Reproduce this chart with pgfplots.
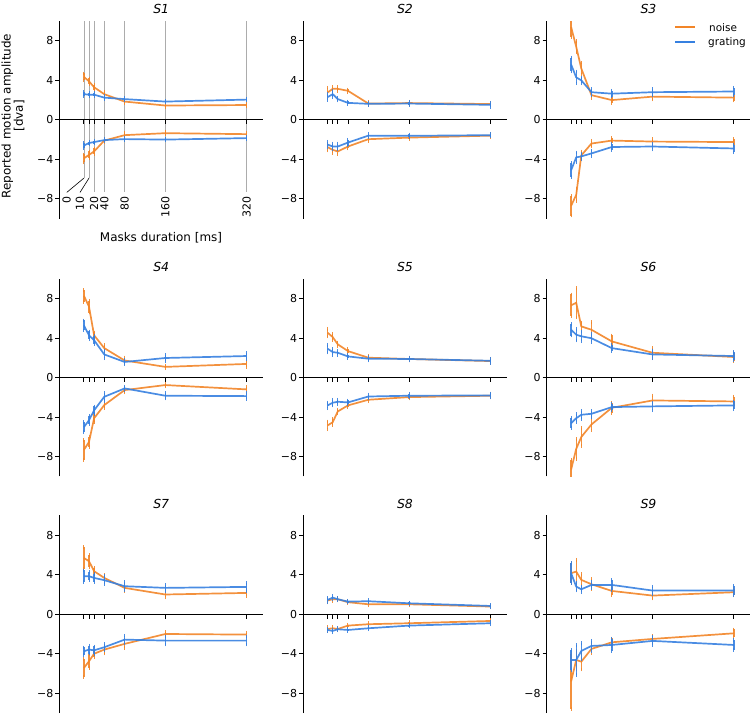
\documentclass[border=0pt]{standalone}
\usepackage{fontspec}
\setmainfont{DejaVu Sans}
\usepackage{pgfplots}
\usepackage{pgfplotstable}
\pgfplotsset{compat=1.18}
\definecolor{cN}{RGB}{242,133,40}
\definecolor{cG}{RGB}{54,128,224}

% columns: x, noise(+) with error, noise(-) with error, grating(+) with error, grating(-) with error
\pgfplotstableread{
x Np eNp Nm eNm Gp eGp Gm eGm
0 4.35 .35 -3.9 .4 2.6 .2 -2.6 .25
10 3.9 .3 -3.55 .35 2.55 .15 -2.35 .15
20 3.3 .25 -3.2 .3 2.55 .15 -2.25 .15
40 2.6 .2 -2.1 .2 2.25 .15 -2.05 .1
80 1.85 .2 -1.55 .2 2.1 .15 -1.95 .1
160 1.45 .15 -1.35 .15 1.85 .1 -2.0 .1
320 1.5 .15 -1.45 .15 2.05 .1 -1.85 .1
}\tA
\pgfplotstableread{
x Np eNp Nm eNm Gp eGp Gm eGm
0 2.77 .5 -2.77 .35 2.3 .3 -2.5 .3
10 3.14 .2 -3.04 .3 2.6 .3 -2.7 .3
20 3.14 .2 -3.2 .3 2.1 .15 -2.7 .3
40 2.94 .15 -2.7 .2 1.72 .15 -2.3 .3
80 1.65 .15 -1.96 .2 1.62 .15 -1.6 .15
160 1.7 .15 -1.8 .15 1.65 .15 -1.62 .15
320 1.6 .15 -1.6 .15 1.52 .2 -1.55 .15
}\tB
\pgfplotstableread{
x Np eNp Nm eNm Gp eGp Gm eGm
0 9.4 1.0 -8.7 1.0 5.6 .7 -5.1 .7
10 7.4 .6 -7.6 .6 4.3 .6 -3.8 .5
20 5.2 .6 -3.6 .4 4.0 .3 -3.7 .3
40 2.5 .3 -2.4 .3 2.8 .3 -3.4 .3
80 2.0 .3 -2.1 .25 2.65 .3 -2.75 .3
160 2.35 .3 -2.2 .25 2.8 .3 -2.7 .3
320 2.25 .3 -2.25 .3 2.87 .4 -2.9 .4
}\tC
\pgfplotstableread{
x Np eNp Nm eNm Gp eGp Gm eGm
0 8.3 .6 -7.3 1.0 5.3 .5 -5.0 .5
10 7.2 .6 -6.5 .5 4.3 .4 -4.3 .4
20 4.3 .3 -4.1 .4 3.8 .4 -3.3 .4
40 3.0 .3 -2.77 .3 2.36 .4 -1.93 .4
80 1.75 .3 -1.25 .25 1.6 .2 -1.08 .2
160 1.1 .15 -0.74 .15 2.0 .3 -1.82 .3
320 1.4 .3 -1.18 .25 2.2 .3 -1.86 .3
}\tD
\pgfplotstableread{
x Np eNp Nm eNm Gp eGp Gm eGm
0 4.56 .4 -4.83 .4 2.94 .4 -2.8 .3
10 4.12 .3 -4.5 .3 2.6 .3 -2.53 .3
20 3.38 .2 -3.41 .2 2.53 .2 -2.43 .2
40 2.7 .2 -2.8 .2 2.16 .15 -2.5 .2
80 2.03 .2 -2.23 .15 1.93 .2 -1.9 .2
160 1.9 .15 -1.96 .15 1.9 .15 -1.82 .2
320 1.69 .2 -1.82 .2 1.72 .2 -1.79 .2
}\tE
\pgfplotstableread{
x Np eNp Nm eNm Gp eGp Gm eGm
0 7.33 1.1 -9.3 1.0 4.86 .6 -4.6 .5
10 7.6 1.5 -7.2 1.0 4.36 .6 -4.1 .4
20 5.2 .4 -6.0 .9 4.2 .5 -3.75 .4
40 4.86 .8 -4.73 .6 4.0 .4 -3.65 .3
80 3.68 .6 -3.04 .5 3.0 .3 -2.97 .3
160 2.53 .5 -2.3 .5 2.36 .4 -2.9 .4
320 2.1 .4 -2.4 .5 2.2 .4 -2.8 .4
}\tF
\pgfplotstableread{
x Np eNp Nm eNm Gp eGp Gm eGm
0 5.7 1.1 -5.44 .9 3.85 .6 -3.75 .4
10 5.37 .6 -4.76 .7 3.85 .4 -3.58 .4
20 4.36 .3 -4.0 .3 3.68 .4 -3.65 .4
40 3.68 .3 -3.58 .4 3.45 .4 -3.34 .3
80 2.67 .3 -3.0 .4 2.84 .4 -2.57 .4
160 2.0 .3 -2.0 .2 2.67 .3 -2.67 .4
320 2.16 .3 -2.06 .2 2.77 .4 -2.67 .4
}\tG
\pgfplotstableread{
x Np eNp Nm eNm Gp eGp Gm eGm
0 1.39 .2 -1.49 .2 1.45 .2 -1.59 .15
10 1.52 .15 -1.42 .15 1.69 .15 -1.69 .15
20 1.52 .1 -1.49 .1 1.52 .1 -1.52 .1
40 1.22 .1 -1.15 .1 1.28 .1 -1.59 .1
80 1.01 .1 -1.01 .1 1.32 .1 -1.42 .1
160 1.01 .1 -0.91 .1 1.11 .1 -1.15 .1
320 0.78 .1 -0.68 .1 0.84 .1 -0.91 .1
}\tH
\pgfplotstableread{
x Np eNp Nm eNm Gp eGp Gm eGm
0 4.16 1.0 -6.8 2.8 4.16 1.0 -4.63 1.0
10 4.32 1.2 -4.63 .9 2.8 .4 -4.63 1.5
20 3.48 .6 -4.8 .8 2.53 .3 -3.72 .8
40 3.04 .5 -3.51 .4 2.97 .3 -3.21 .5
80 2.36 .4 -2.84 .4 2.97 .5 -3.11 .6
160 1.89 .3 -2.5 .3 2.4 .4 -2.7 .4
320 2.23 .3 -1.93 .4 2.4 .5 -3.11 .5
}\tI

\pgfplotsset{
  panel/.style={
    scale only axis, width=203.5bp, height=197.5bp,
    anchor=south west,
    xmin=-48, xmax=352, ymin=-10, ymax=10,
    axis x line=none, axis y line=left,
    axis line style={-, line width=0.9bp, black},
    ytick={-8,-4,0,4,8}, yticklabels={−8,−4,0,4,8},
    tick align=outside, major tick length=4bp,
    tick style={line width=0.9bp, black},
    yticklabel style={font=\fontsize{11}{12}\selectfont, inner sep=0pt, anchor=east, xshift=-2bp},
    title style={font=\fontsize{12.5}{14}\selectfont\itshape, at={(0.5,1)}, anchor=base, yshift=1.5bp},
    clip mode=individual,
  },
}
\newcommand{\series}[4]{%
  \addplot[#4, line width=1.7bp, opacity=0.9,
    error bars/.cd, y dir=both, y explicit,
    error bar style={line width=1.4bp, #4},
    error mark options={mark size=1.8bp, line width=1bp, #4}]
    table[x=x, y=#2, y error=#3] {#1};}
\newcommand{\zeroaxis}{%
  \draw[black, line width=1bp] (axis cs:-48,0) -- (axis cs:352,0);
  \pgfplotsinvokeforeach{0,10,20,40,80,160,320}{\draw[black, line width=0.9bp] (axis cs:##1,0) -- ([yshift=-4.5bp]axis cs:##1,0);}}
\newcommand{\allseries}[1]{%
  \series{#1}{Np}{eNp}{cN}\series{#1}{Nm}{eNm}{cN}%
  \series{#1}{Gp}{eGp}{cG}\series{#1}{Gm}{eGm}{cG}}

\begin{document}
\begin{tikzpicture}
\path[use as bounding box] (0bp,0bp) rectangle (750bp,714bp);

% ---- row 1 ----
\begin{axis}[panel, at={(59.5bp,495.4bp)}, title={S1}]
  \pgfplotsinvokeforeach{20,40,80,160,320}{\draw[gray!65, line width=0.8bp] (axis cs:#1,10) -- (axis cs:#1,-7.3);}
  \draw[gray!65, line width=0.8bp] (axis cs:0,10) -- (axis cs:0,-5.9);
  \draw[gray!65, line width=0.8bp] (axis cs:10,10) -- (axis cs:10,-5.9);
  \draw[black, line width=0.6bp] (axis cs:0,-5.9) -- (axis cs:-33.8,-7.35);
  \draw[black, line width=0.6bp] (axis cs:10,-5.9) -- (axis cs:-7.7,-7.35);
  \pgfplotsinvokeforeach{20,40,80,160,320}{\node[rotate=90, anchor=east, inner sep=0pt, font=\fontsize{11}{12}\selectfont] at (axis cs:#1,-7.75) {#1};}
  \node[rotate=90, anchor=east, inner sep=0pt, font=\fontsize{11}{12}\selectfont] at (axis cs:-33.8,-7.75) {0};
  \node[rotate=90, anchor=east, inner sep=0pt, font=\fontsize{11}{12}\selectfont] at (axis cs:-7.7,-7.75) {10};
  \zeroaxis
  \allseries{\tA}
\end{axis}
\begin{axis}[panel, at={(303.2bp,495.4bp)}, title={S2}]
  \zeroaxis
  \allseries{\tB}
\end{axis}
\begin{axis}[panel, at={(546.7bp,495.4bp)}, title={S3}]
  \zeroaxis
  \allseries{\tC}
\end{axis}

% ---- row 2 ----
\begin{axis}[panel, at={(59.5bp,237.5bp)}, title={S4}]
  \zeroaxis
  \allseries{\tD}
\end{axis}
\begin{axis}[panel, at={(303.2bp,237.5bp)}, title={S5}]
  \zeroaxis
  \allseries{\tE}
\end{axis}
\begin{axis}[panel, at={(546.7bp,237.5bp)}, title={S6}]
  \zeroaxis
  \allseries{\tF}
\end{axis}

% ---- row 3 ----
\begin{axis}[panel, at={(59.5bp,1bp)}, title={S7}]
  \zeroaxis
  \allseries{\tG}
\end{axis}
\begin{axis}[panel, at={(303.2bp,1bp)}, title={S8}]
  \zeroaxis
  \allseries{\tH}
\end{axis}
\begin{axis}[panel, at={(546.7bp,1bp)}, title={S9}]
  \zeroaxis
  \allseries{\tI}
\end{axis}

% labels and legend
\node[rotate=90, align=center, font=\fontsize{12}{12.5}\selectfont] at (13bp,598bp) {Reported motion amplitude\\{[dva]}};
\node[font=\fontsize{12}{14}\selectfont] at (161bp,476.3bp) {Masks duration [ms]};
\draw[cN, line width=1.8bp] (675bp,686.7bp) -- (695bp,686.7bp);
\draw[cG, line width=1.8bp] (675bp,671.7bp) -- (695bp,671.7bp);
\node[anchor=base west, inner sep=0pt, font=\fontsize{10.5}{12}\selectfont] at (709bp,682.8bp) {noise};
\node[anchor=base west, inner sep=0pt, font=\fontsize{10.5}{12}\selectfont] at (708bp,668.2bp) {grating};
\end{tikzpicture}
\end{document}
